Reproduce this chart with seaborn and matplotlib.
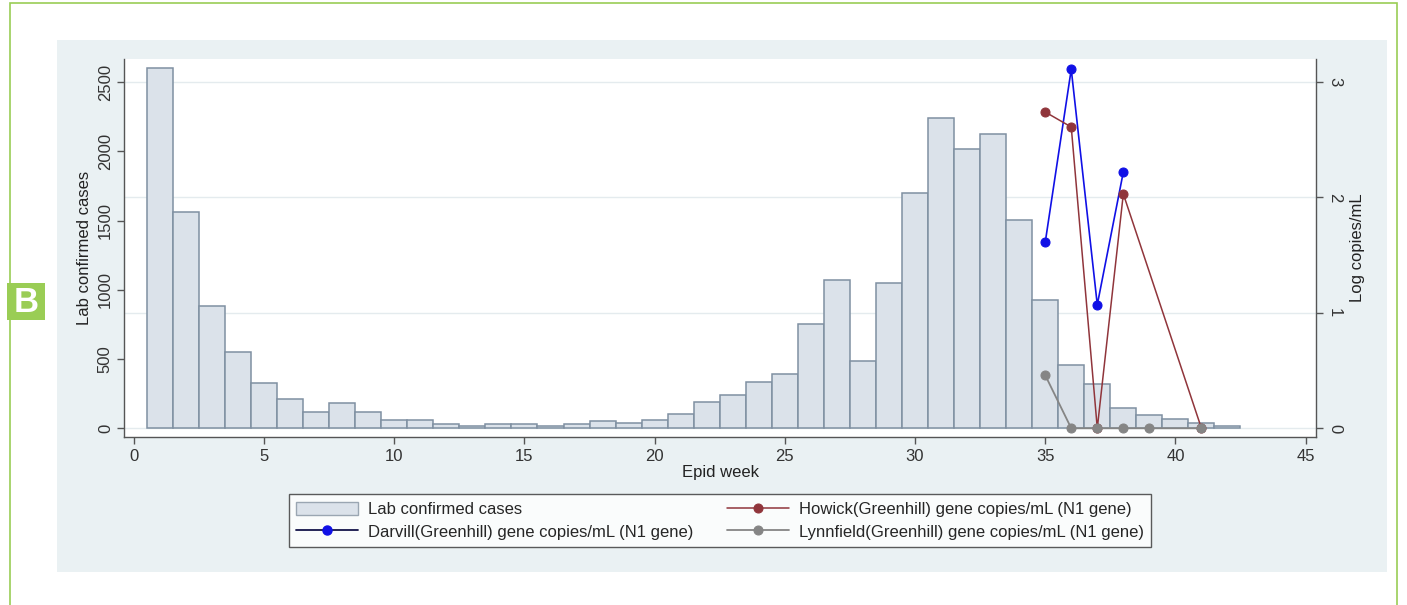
import numpy as np
import pandas as pd
import matplotlib
matplotlib.use("Agg")
import matplotlib.pyplot as plt
import seaborn as sns
from matplotlib.patches import Rectangle, Patch
from matplotlib.lines import Line2D

# === Data ===
weeks = list(range(1, 43))
cases = [2600, 1560, 880, 550, 330, 210, 118, 181, 120, 58,
         60, 29, 17, 29, 29, 17, 29, 50, 41, 60,
         101, 190, 238, 332, 392, 750, 1070, 487, 1050, 1702,
         2243, 2015, 2122, 1502, 928, 458, 317, 147, 98, 66,
         37, 15]

darvill_weeks = [35, 36, 37, 38]
darvill_log = [1.61, 3.11, 1.07, 2.22]

howick_weeks = [35, 36, 37, 38, 41]
howick_log = [2.74, 2.61, 0.0, 2.03, 0.0]

lynnfield_weeks = [35, 36, 37, 38, 39, 41]
lynnfield_log = [0.46, 0.0, 0.0, 0.0, 0.0, 0.0]

# === Style ===
BAR_FILL = "#dbe2ea"
BAR_EDGE = "#7f90a2"
BLUE = "#1010e6"
NAVY = "#14144a"
RED = "#90353b"
GRAY = "#858585"
PANEL = "#eaf1f3"
GREEN = "#9acd55"
AXIS = "#555555"

sns.set_theme(style="ticks")
plt.rcParams["font.family"] = ["Liberation Sans", "DejaVu Sans"]
plt.rcParams["font.size"] = 12


def main():
    fig = plt.figure(figsize=(14.07, 6.05), dpi=100)
    fig.patch.set_facecolor("white")

    # outer green frame, grey-blue panel and the panel letter
    fig.add_artist(Rectangle((10 / 1407, -0.05), 1387 / 1407, 1.05 - 3 / 605,
                             transform=fig.transFigure, fill=False,
                             edgecolor=GREEN, linewidth=1.2, zorder=-2))
    fig.add_artist(Rectangle((57 / 1407, 33 / 605), 1330 / 1407, 532 / 605,
                             transform=fig.transFigure, facecolor=PANEL,
                             edgecolor="none", zorder=-1))
    fig.add_artist(Rectangle((7 / 1407, 1 - 320 / 605), 38 / 1407, 37 / 605,
                             transform=fig.transFigure, facecolor=GREEN,
                             edgecolor="none", zorder=3))
    fig.text(26 / 1407, 1 - 302 / 605, "B", color="white", fontsize=25,
             fontweight="bold", ha="center", va="center", zorder=4)

    ax = fig.add_axes([124 / 1407, 1 - 437 / 605, 1192 / 1407, 378 / 605])
    ax.set_facecolor("white")

    df = pd.DataFrame({"week": weeks, "cases": cases})
    sns.histplot(data=df, x="week", weights="cases", discrete=True, ax=ax,
                 color=BAR_FILL, edgecolor=BAR_EDGE, linewidth=1.1, alpha=1,
                 zorder=2)

    ylim_left = (-63, 2666)
    scale = 3 / 2500
    ax.set_xlim(-0.38, 45.4)
    ax.set_ylim(*ylim_left)
    ax.set_xticks(range(0, 46, 5))
    ax.set_yticks(range(0, 2501, 500))
    ax.set_xlabel("Epid week", fontsize=12, labelpad=1, color="#222222")
    ax.set_ylabel("Lab confirmed cases", fontsize=12, labelpad=4, color="#222222")

    # right-axis grid lines, drawn behind the bars
    right_ticks = [0, 1, 2, 3]
    for v in right_ticks:
        ax.axhline(v / scale, color="#e4ebee", linewidth=1.0, zorder=0.5)

    ax2 = ax.twinx()
    ax2.set_ylim(ylim_left[0] * scale, ylim_left[1] * scale)
    ax2.patch.set_visible(False)

    sns.lineplot(x=darvill_weeks, y=darvill_log, ax=ax2, color=BLUE, marker="o",
                 markersize=6.5, markeredgecolor=BLUE, linewidth=1.2,
                 label="Darvill(Greenhill) gene copies/mL (N1 gene)")
    sns.lineplot(x=howick_weeks, y=howick_log, ax=ax2, color=RED, marker="o",
                 markersize=6.5, markeredgecolor=RED, linewidth=1.1,
                 label="Howick(Greenhill) gene copies/mL (N1 gene)")
    sns.lineplot(x=lynnfield_weeks, y=lynnfield_log, ax=ax2, color=GRAY, marker="o",
                 markersize=6.5, markeredgecolor=GRAY, linewidth=1.3,
                 label="Lynnfield(Greenhill) gene copies/mL (N1 gene)")
    if ax2.get_legend() is not None:
        ax2.get_legend().remove()

    ax2.set_yticks(right_ticks)
    ax2.set_ylabel("Log copies/mL", fontsize=12, rotation=90, labelpad=6,
                   color="#222222")

    for a in (ax, ax2):
        a.spines["top"].set_visible(False)
        for s in ("left", "bottom", "right"):
            a.spines[s].set_color(AXIS)
            a.spines[s].set_linewidth(1.0)
        a.tick_params(colors=AXIS, labelcolor="#333333", labelsize=12,
                      length=5, width=1.0, direction="out")
    ax.spines["right"].set_visible(False)
    ax2.spines["left"].set_visible(False)
    ax2.spines["bottom"].set_visible(False)

    ax.tick_params(axis="y", labelrotation=90, pad=3)
    for lbl in ax.get_yticklabels():
        lbl.set_va("center")
    ax2.tick_params(axis="y", labelrotation=-90, pad=3)
    for lbl in ax2.get_yticklabels():
        lbl.set_va("center")

    # legend under the plot (Darvill key drawn with a navy line, as in the original)
    h2, l2 = ax2.get_legend_handles_labels()
    bar_handle = Patch(facecolor=BAR_FILL, edgecolor="#9aa6b2", linewidth=1.0)
    darvill_handle = Line2D([], [], color=NAVY, linewidth=1.3, marker="o",
                            markersize=6.5, markerfacecolor=BLUE,
                            markeredgecolor=BLUE)
    handles = [bar_handle, darvill_handle, h2[1], h2[2]]
    labels = ["Lab confirmed cases", l2[0], l2[1], l2[2]]
    leg = fig.legend(handles, labels, ncol=2, loc="center",
                     bbox_to_anchor=(720 / 1407, 1 - 520.5 / 605),
                     fontsize=12, frameon=True, fancybox=False,
                     handlelength=3.7, handleheight=0.9, columnspacing=2.0,
                     labelspacing=0.4, borderpad=0.45, handletextpad=0.6)
    leg.get_frame().set_edgecolor("#333333")
    leg.get_frame().set_linewidth(1.0)

    fig.savefig("out.png", dpi=100)
    plt.close(fig)


if __name__ == "__main__":
    main()
